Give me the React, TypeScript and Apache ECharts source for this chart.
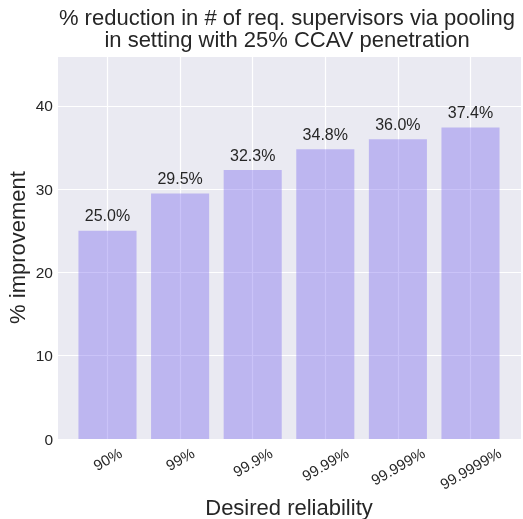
import React, { useEffect, useRef } from "react";
import * as echarts from "echarts";

const categories = ["90%", "99%", "99.9%", "99.99%", "99.999%", "99.9999%"];
const improvement = [25.0, 29.5, 32.3, 34.8, 36.0, 37.4];
const yTicks = { min: 0, max: 46, interval: 10 };
const titleText = "% reduction in # of req. supervisors via pooling\nin setting with 25% CCAV penetration";
const xName = "Desired reliability";
const yName = "% improvement";

const FONT = "'Liberation Sans', Arial, Helvetica, sans-serif";
const TEXT = "#262626";

export default function App() {
  const ref = useRef<HTMLDivElement>(null);
  useEffect(() => {
    if (!ref.current) return;
    const chart = echarts.init(ref.current, null, { renderer: "svg" });

    const tickFont = 15;
    const lh = 15;
    const margin = 2;
    const ctx = document.createElement("canvas").getContext("2d");
    if (ctx) ctx.font = `${tickFont}px 'Liberation Sans'`;
    const catData = categories.map((c) => {
      const w = ctx ? ctx.measureText(c).width : c.length * 8;
      const d = 12.5 + w / 4 - margin;
      const top = Math.max(0, 0.866 * d - lh / 2);
      return {
        value: c,
        textStyle: {
          align: "center",
          verticalAlign: "top",
          lineHeight: lh,
          fontSize: tickFont,
          color: TEXT,
          fontFamily: FONT,
          padding: [top, d, 0, 0],
        },
      };
    });

    const plotLeft = 58;
    const plotRight = 521;
    const plotTop = 56;
    const plotBottom = 439;
    const band = 72.6;
    const bandLeft = 107.5 - band / 2;

    chart.setOption({
      animation: false,
      textStyle: { fontFamily: FONT, color: TEXT },
      graphic: [
        {
          type: "text",
          x: 287,
          y: 6,
          style: {
            text: titleText,
            fontSize: 22,
            fontFamily: FONT,
            fill: TEXT,
            align: "center",
            verticalAlign: "top",
            lineHeight: 22.5,
          },
        },
      ],
      grid: [
        {
          left: plotLeft,
          top: plotTop,
          width: plotRight - plotLeft,
          height: plotBottom - plotTop,
          show: true,
          backgroundColor: "#EAEAF2",
          borderWidth: 0,
          outerBoundsMode: "none",
          containLabel: false,
        },
        {
          left: bandLeft,
          top: plotTop,
          width: band * categories.length,
          height: plotBottom - plotTop,
          outerBoundsMode: "none",
          containLabel: false,
        },
      ],
      xAxis: [
        {
          gridIndex: 0,
          type: "value",
          min: 0,
          max: 1,
          show: false,
          splitLine: { show: false },
        },
        {
          gridIndex: 1,
          type: "category",
          data: catData,
          axisLine: { show: false },
          axisTick: { show: false },
          splitLine: {
            show: true,
            alignWithLabel: true,
            lineStyle: { color: "#FFFFFF", width: 1.2 },
          },
          axisLabel: {
            interval: 0,
            rotate: 30,
            align: "center",
            verticalAlign: "top",
            lineHeight: lh,
            margin: margin,
            fontSize: tickFont,
            color: TEXT,
            fontFamily: FONT,
            hideOverlap: false,
          },
          name: xName,
          nameLocation: "middle",
          nameGap: 68,
          nameMoveOverlap: false,
          nameTextStyle: {
            fontSize: 22,
            color: TEXT,
            fontFamily: FONT,
            verticalAlign: "middle",
            align: "center",
          },
        },
      ],
      yAxis: [
        {
          gridIndex: 0,
          type: "value",
          min: yTicks.min,
          max: yTicks.max,
          interval: yTicks.interval,
          axisLine: { show: false },
          axisTick: { show: false },
          splitLine: { show: true, lineStyle: { color: "#FFFFFF", width: 1.2 } },
          axisLabel: {
            margin: 5,
            fontSize: 15.5,
            color: TEXT,
            fontFamily: FONT,
            showMaxLabel: false,
          },
          name: yName,
          nameLocation: "middle",
          nameRotate: 90,
          nameGap: 40.5,
          nameMoveOverlap: false,
          nameTextStyle: {
            fontSize: 22,
            color: TEXT,
            fontFamily: FONT,
            verticalAlign: "middle",
            align: "center",
          },
        },
        {
          gridIndex: 1,
          type: "value",
          min: yTicks.min,
          max: yTicks.max,
          interval: yTicks.interval,
          show: false,
          splitLine: { show: false },
        },
      ],
      series: [
        {
          type: "bar",
          xAxisIndex: 1,
          yAxisIndex: 1,
          data: improvement,
          barWidth: "80%",
          itemStyle: { color: "rgba(123,104,238,0.4)" },
          label: {
            show: true,
            position: "top",
            distance: 7,
            fontSize: 16,
            color: TEXT,
            fontFamily: FONT,
            formatter: (p: any) => `${Number(p.value).toFixed(1)}%`,
          },
        },
      ],
    });
    return () => chart.dispose();
  }, []);
  return (
    <div
      ref={ref}
      style={{ position: "fixed", left: 0, top: 0, width: 523, height: 519 }}
    />
  );
}
